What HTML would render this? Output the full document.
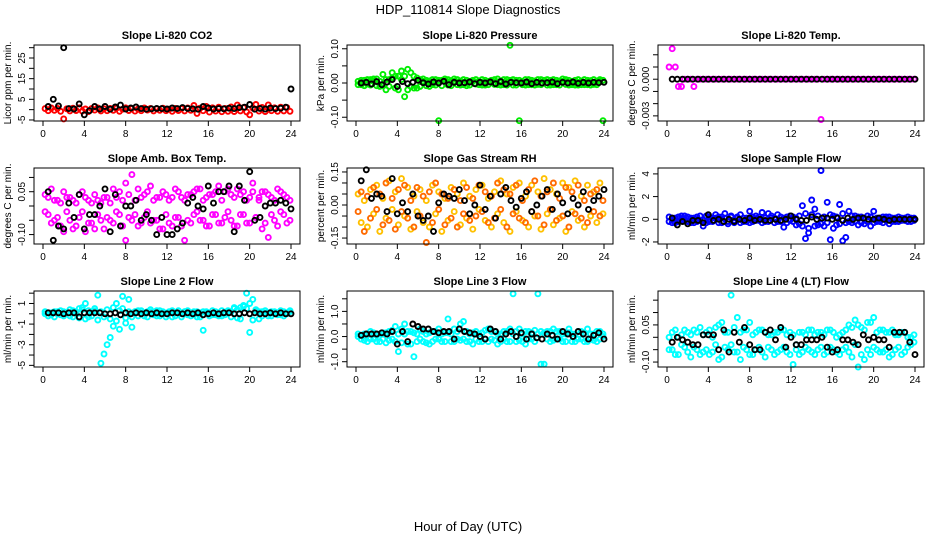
<!DOCTYPE html>
<html><head><meta charset="utf-8"><style>
html,body{margin:0;padding:0;background:#fff;}
svg{display:block;font-family:"Liberation Sans",sans-serif;}
</style></head><body>
<svg id="chart" width="936" height="540" viewBox="0 0 936 540" xmlns="http://www.w3.org/2000/svg">
<rect width="936" height="540" fill="#fff"/>
<text x="468" y="14" text-anchor="middle" font-size="13">HDP_110814  Slope Diagnostics</text>
<text x="468" y="531" text-anchor="middle" font-size="13">Hour of Day (UTC)</text>
</svg>
<script>
const hoursC=[0.2,0.5,0.8,1.1,1.4,1.7,2.0,2.3,2.6,2.9,3.2,3.5,3.8,4.1,4.4,4.7,5.0,5.3,5.6,5.9,6.2,6.5,6.8,7.1,7.4,7.7,8.0,8.3,8.6,8.9,9.2,9.5,9.8,10.1,10.4,10.7,11.0,11.3,11.6,11.9,12.2,12.5,12.8,13.1,13.4,13.7,14.0,14.3,14.6,14.9,15.2,15.5,15.8,16.1,16.4,16.7,17.0,17.3,17.6,17.9,18.2,18.5,18.8,19.1,19.4,19.7,20.0,20.3,20.6,20.9,21.2,21.5,21.8,22.1,22.4,22.7,23.0,23.3,23.6,23.9];
const hoursB=[0.5,1.0,1.5,2.0,2.5,3.0,3.5,4.0,4.5,5.0,5.5,6.0,6.5,7.0,7.5,8.0,8.5,9.0,9.5,10.0,10.5,11.0,11.5,12.0,12.5,13.0,13.5,14.0,14.5,15.0,15.5,16.0,16.5,17.0,17.5,18.0,18.5,19.0,19.5,20.0,20.5,21.0,21.5,22.0,22.5,23.0,23.5,24.0];
const xTicks=[0,4,8,12,16,20,24];

const co2A=[0.5,-0.5,0.8,-0.3,0.6,-0.8,-4.5,0.4,-0.6,0.7,-0.4,0.9,-0.7,0.3,-0.9,0.5,-0.2,0.8,-0.6,0.4,-0.5,0.6,-0.3,0.7,-0.8,0.2,0.9,-0.4,0.5,-0.7,0.3,-0.5,0.8,-0.2,0.6,-0.6,0.4,-0.3,0.7,-0.5,0.2,-0.8,0.6,-0.4,0.5,-0.6,0.8,-0.3,2.0,-1.8,0.7,-0.5,1.5,-1.2,0.9,-0.7,1.2,-1.0,0.6,-0.8,1.3,-0.9,2.2,-0.6,1.0,-1.1,-2.5,0.8,2.5,-0.7,1.1,-0.9,2.3,-0.5,0.9,-0.8,1.2,-0.6,1.0,-0.8];
const co2Black=[1.5,5,1.8,30,0.5,0.3,2.8,-2.5,-0.5,1.5,0.3,1.5,0.2,1.3,2.2,0.3,0.8,1.3,0.5,0.2,0.4,0.6,0.5,0.3,0.8,0.5,1.0,0.6,0.4,0.2,1.5,0.8,0.3,0.5,0.4,0.7,0.5,1.0,1.2,2.5,0.2,0.6,0.3,0.8,0.5,0.7,1.2,10];
const co2Ticks=[-5,0,5,10,15,20,25,30];
const co2Labels=[-5,5,15,25];

const pressA=[0.005,-0.005,0.008,-0.003,0.01,0.012,-0.008,0.005,0.025,-0.02,0.01,0.03,-0.015,0.02,0.035,-0.04,0.04,-0.01,0.02,-0.015,0.01,0.005,-0.008,0.006,-0.005,0.01,-0.11,0.008,0.012,-0.006,0.007,0.012,-0.005,0.006,0.01,-0.008,0.005,0.008,-0.003,0.006,0.01,-0.006,0.005,0.008,-0.004,0.012,0.006,-0.005,0.01,0.11,-0.006,0.008,-0.11,0.005,0.01,-0.005,0.008,0.006,-0.004,0.01,0.005,-0.006,0.008,0.01,-0.005,0.006,0.012,-0.004,0.008,0.005,-0.006,0.01,0.006,-0.005,0.008,0.007,-0.004,0.006,0.01,-0.11];
const pressB=[-0.005,0.008,-0.008,0.01,-0.006,0.005,0.012,-0.01,-0.008,0.01,-0.01,0.015,0.02,-0.02,0.01,0.02,-0.02,0.03,-0.015,0.015,-0.01,0.012,0.008,-0.01,0.01,-0.006,0.008,-0.008,0.006,0.01,-0.008,0.005,0.01,-0.006,-0.005,0.008,-0.006,0.005,0.01,-0.005,-0.006,0.008,-0.005,0.006,0.01,-0.005,-0.006,0.01,-0.006,0.008,0.01,-0.006,0.008,-0.005,-0.006,0.01,-0.005,-0.006,0.01,-0.005,0.008,0.01,-0.006,-0.005,0.008,-0.006,0.005,0.01,-0.006,-0.005,0.008,-0.006,-0.005,0.01,-0.005,-0.006,0.01,-0.005,0.006,0.008];
const pressBlack=[0,0.002,-0.003,0.004,-0.005,0.003,0.01,-0.01,0.004,-0.002,0.002,0.008,0.001,-0.003,0.003,0,0.005,-0.005,0.002,0,0.001,0.003,-0.002,0.002,0,0.003,-0.002,0.004,-0.003,0.002,0.001,0,0.003,-0.002,0.002,0,0.001,0.003,-0.002,0.002,0,0.003,-0.001,0.002,0,0.002,0.001,0.002];
const pressTicks=[-0.1,-0.05,0,0.05,0.1];
const pressLabels=["-0.10","0.00","0.10"];

const tempA=[0.001,0.0025,0.001,-0.0006,-0.0006,0,0,0,-0.0006,0,0,0,0,0,0,0,0,0,0,0,0,0,0,0,0,0,0,0,0,0,0,0,0,0,0,0,0,0,0,0,0,0,0,0,0,0,0,0,0,-0.0033,0,0,0,0,0,0,0,0,0,0,0,0,0,0,0,0,0,0,0,0,0,0,0,0,0,0,0,0,0,0];
const tempBlack=[0,0,0,0,0,0,0,0,0,0,0,0,0,0,0,0,0,0,0,0,0,0,0,0,0,0,0,0,0,0,0,0,0,0,0,0,0,0,0,0,0,0,0,0,0,0,0,0];
const tempTicks=[-0.003,-0.002,-0.001,0,0.001,0.002];
const tempLabels=["-0.003","0.000"];

const ambA=[0.04,-0.03,0.06,-0.05,0.02,-0.07,0.05,-0.02,0.03,-0.08,0.01,-0.04,0.05,-0.09,0.02,-0.06,0.04,-0.03,0.01,-0.08,0.03,-0.05,0.06,-0.02,0.05,-0.07,0.08,-0.04,0.11,-0.03,0.06,-0.06,0.04,-0.02,0.07,-0.05,0.03,-0.08,0.05,-0.03,0.02,-0.07,0.06,-0.04,0.03,-0.12,0.04,-0.06,0.05,-0.02,0.06,-0.05,0.03,-0.07,0.04,-0.03,0.07,-0.06,0.05,-0.02,0.04,-0.07,0.06,-0.03,0.05,-0.06,0.03,0.08,-0.04,0.02,-0.08,0.05,-0.11,0.03,-0.05,0.06,-0.02,0.04,-0.06,0.02];
const ambB=[-0.02,0.03,-0.06,0.02,-0.04,0.01,-0.09,0.03,-0.05,0.02,-0.07,0.04,-0.02,0.03,-0.06,0.01,-0.08,0.02,-0.05,0.03,-0.04,0.01,-0.06,0.03,-0.03,0.02,-0.12,0.04,-0.05,0.02,-0.07,0.03,-0.04,0.05,-0.06,0.02,-0.05,0.03,-0.08,0.04,-0.06,0.03,-0.04,0.05,-0.07,0.02,-0.05,0.04,-0.03,0.06,-0.05,0.02,-0.07,0.04,-0.03,0.05,-0.06,0.02,-0.04,0.06,-0.05,0.03,-0.07,0.04,-0.03,0.02,-0.06,0.05,-0.04,0.03,0.05,-0.06,0.04,-0.03,0.02,-0.07,0.05,-0.03,0.03,-0.05];
const ambBlack=[0.05,-0.12,-0.07,-0.08,0.01,-0.04,0.04,-0.08,-0.03,-0.03,0.0,0.06,-0.09,0.04,-0.07,0.0,0.0,0.02,-0.05,-0.03,-0.05,-0.1,-0.04,-0.1,-0.1,-0.08,-0.06,0.01,0.03,0.0,-0.01,0.07,0.01,0.05,0.05,0.07,-0.09,0.07,0.02,0.12,-0.05,-0.04,0.0,0.01,0.01,0.02,0.01,-0.01];
const ambTicks=[-0.1,-0.05,0,0.05,0.1];
const ambLabels=["-0.10","0.05"];

const rhA=[0.05,-0.08,0.02,-0.1,0.07,-0.04,0.09,-0.12,0.03,-0.06,0.11,-0.02,0.06,-0.09,0.12,-0.05,0.08,-0.11,0.04,-0.03,0.07,-0.08,0.02,-0.1,0.09,-0.04,0.06,-0.12,0.03,-0.07,0.08,-0.03,0.05,-0.09,0.1,-0.06,0.04,-0.11,0.07,-0.02,0.09,-0.07,0.03,-0.1,0.06,-0.04,0.11,-0.08,0.05,-0.12,0.08,-0.03,0.1,-0.07,0.04,-0.1,0.09,-0.05,0.06,-0.11,0.12,-0.04,0.07,-0.09,0.05,-0.06,0.1,-0.12,0.08,-0.03,0.11,-0.07,0.04,-0.1,0.09,-0.05,0.06,-0.08,0.1,-0.04];
const rhB=[-0.03,0.06,-0.12,0.04,-0.06,0.08,-0.02,0.05,-0.09,0.1,-0.07,0.03,-0.11,0.07,-0.03,0.09,-0.06,0.02,-0.1,0.08,-0.05,0.04,-0.17,0.06,-0.08,0.1,-0.02,0.05,-0.09,0.03,-0.06,0.07,-0.1,0.02,-0.04,0.08,-0.07,0.03,-0.05,0.09,-0.03,0.06,-0.08,0.04,-0.06,0.1,-0.02,0.07,-0.1,0.05,-0.04,0.09,-0.06,0.02,-0.08,0.07,-0.03,0.11,-0.05,0.04,-0.09,0.06,-0.02,0.1,-0.07,0.03,-0.05,0.08,-0.1,0.06,-0.04,0.09,-0.06,0.02,-0.08,0.05,-0.03,0.07,-0.05,0.02];
const rhBlack=[0.11,0.16,0.03,0.05,0.04,-0.03,0.12,-0.04,0.01,-0.03,0.05,-0.05,-0.07,-0.05,-0.12,0.01,0.05,0.04,0.03,0.07,0.02,-0.04,0.0,0.09,-0.02,0.04,-0.06,0.05,0.08,0.02,-0.01,0.03,0.06,-0.03,0.0,0.04,0.07,-0.02,0.05,0.01,-0.04,0.03,0.0,0.06,-0.02,0.02,0.04,0.07];
const rhTicks=[-0.15,-0.1,-0.05,0,0.05,0.1,0.15];
const rhLabels=["-0.15","0.00","0.15"];

const flowA=[-0.2,0.1,-0.3,0.2,-0.1,0.3,-0.2,0.1,-0.3,0.2,-0.1,-0.6,0.3,-0.2,0.1,0.4,-0.3,0.2,0.5,-0.4,0.2,-0.3,0.1,0.4,-0.2,0.1,0.7,-0.2,0.3,-0.1,0.6,-0.2,0.5,0.1,-0.3,0.4,-0.2,-0.7,0.2,0.3,-0.2,0.1,-0.4,1.2,-1.7,-1.2,1.7,0.9,-0.5,4.3,-0.6,1.5,-1.8,0.3,-0.5,1.3,-1.9,-1.6,0.7,-0.3,0.3,-0.5,0.2,-0.4,0.3,-0.6,0.7,-0.2,0.1,-0.3,0.2,-0.4,0.1,-0.2,0.2,-0.1,0.1,-0.2,0.1,-0.1];
const flowB=[0.2,-0.3,0.1,-0.2,0.3,-0.1,0.2,-0.3,0.1,-0.2,0.3,-0.1,-0.3,0.2,-0.2,0.1,0.2,-0.3,0.1,-0.2,0.3,-0.1,0.2,-0.3,0.1,-0.2,-0.3,0.2,-0.1,0.2,-0.3,0.1,-0.2,0.3,0.1,-0.2,0.2,0.1,-0.3,-0.1,0.2,-0.5,0.3,-0.6,0.5,-0.8,0.4,-0.6,0.3,-0.4,0.2,-0.3,0.4,-0.8,0.2,-0.4,0.5,-0.3,-0.2,0.3,-0.2,0.2,-0.3,0.1,-0.2,0.2,-0.3,0.1,-0.2,0.2,-0.1,0.2,-0.2,0.1,-0.2,0.1,-0.1,0.2,-0.2,0.1];
const flowBlack=[0.1,-0.5,-0.2,-0.4,-0.1,-0.1,-0.3,0.4,-0.1,0.0,-0.2,0.0,-0.2,0.0,-0.1,0.1,-0.1,0.0,-0.1,-0.1,0.0,-0.1,0.0,0.3,0.0,-0.1,-0.1,0.2,0.0,0.1,0.1,0.0,0.1,-0.1,0.1,0.0,0.1,0.1,0.0,0.0,0.1,0.0,-0.1,0.0,0.0,0.0,0.0,0.0];
const flowTicks=[-2,0,2,4];
const flowLabels=[-2,0,2,4];

const l2A=[0,0.1,-0.1,0.2,0,-0.1,0.2,0.1,-0.2,0.3,0.1,0.5,0.4,1.0,-0.3,0.2,0.3,1.8,-4.8,-3.9,-3.0,-2.3,-1.2,1.0,-1.5,1.7,-0.9,1.4,-1.3,0.2,0.3,0.1,-0.2,0.2,0.4,0.1,-0.2,0.3,0.1,0,0.2,-0.3,0.1,0.3,0,0.2,-0.1,0.1,0.2,-0.3,0.1,-1.6,0.2,0,-0.1,0.2,0.1,-0.2,0.1,0.3,0.2,0.5,-0.4,0.6,0.8,2.0,-1.8,1.4,0.3,-0.5,0.2,0.1,-0.2,0.2,0,0.1,-0.1,0.2,0,0.3];
const l2B=[0.2,-0.2,0.1,-0.3,0.2,0.3,-0.2,0.1,0.4,-0.3,0.2,-0.4,0.6,-0.5,0.3,-0.2,0.5,-0.6,0.2,-0.3,0.4,-0.5,0.6,-0.7,0.3,0.5,-0.4,0.2,-0.3,0.2,-0.2,0.3,0.1,-0.3,0.2,-0.1,0.3,-0.2,0.2,-0.3,0.1,0.3,-0.2,0.1,-0.3,0.2,0.3,-0.2,-0.1,0.2,-0.3,0.2,0.1,-0.2,0.3,-0.1,-0.2,0.3,-0.1,0.2,-0.3,0.6,0.4,-0.5,0.7,0.5,1.0,-0.6,0.4,0.2,-0.2,0.3,0.1,-0.2,0.2,-0.1,0.3,-0.2,0.1,0.2];
const l2Black=[0.1,0.1,0.1,0,0.1,0.1,-0.3,0.1,0.1,0.1,0.1,0,0,0.1,-0.1,0.1,0,0.1,0,0.1,0,0.1,0,0,0.1,0.1,0,0.1,0,0.1,-0.1,0,0.1,0,0.1,0.1,0,0,0.1,0,0.1,0,0,0.1,0,0.1,0,0];
const l2Ticks=[-5,-4,-3,-2,-1,0,1,2];
const l2Labels=[-5,-3,-1,1];

const l3A=[0,-0.1,0.1,-0.2,0.2,-0.1,0.05,-0.2,0.15,-0.25,0.2,-0.1,0.4,-0.6,0.3,0.5,-0.3,0.2,-0.8,0.1,0.3,-0.2,0.1,-0.3,0.2,-0.1,0.3,-0.2,0.15,0.7,-0.2,0.3,-0.1,0.5,0.6,-0.2,0.1,-0.3,0.2,0.1,-0.2,0.25,0.3,-0.1,0.2,-0.3,0.1,0.2,-0.2,0.3,1.7,-0.2,0.3,0.1,-0.3,0.2,-0.1,0.25,1.7,-1.1,-1.1,0.2,-0.2,0.3,-0.1,0.2,-0.2,0.1,0.3,-0.2,0.1,-0.1,0.2,-0.2,0.3,-0.1,0.1,-0.2,0.2,0];
const l3B=[0.1,0.05,-0.15,0.1,-0.1,0.15,-0.2,0.1,-0.1,0.15,-0.15,0.25,-0.2,0.1,-0.25,0.1,0.2,-0.3,0.15,-0.2,-0.1,0.2,-0.25,0.15,-0.2,0.2,-0.1,0.1,-0.2,0.15,0.1,-0.2,0.2,-0.15,-0.1,0.2,-0.2,0.15,-0.1,-0.2,0.15,-0.1,-0.2,0.2,-0.15,0.1,-0.2,-0.1,0.2,-0.2,0.1,0.2,-0.15,-0.2,0.2,-0.1,0.15,-0.2,0.1,0.2,0.15,-0.1,0.2,-0.15,0.2,-0.1,0.1,-0.2,0.15,0.1,-0.2,0.2,-0.1,0.15,-0.2,0.1,-0.15,0.2,-0.1,0.1];
const l3Black=[0.05,0.1,0.1,0.1,0.15,0.1,0.2,-0.3,0.2,-0.2,0.5,0.4,0.3,0.3,0.2,0.15,0.2,0.2,-0.1,0.3,0.2,0.15,0.1,0.0,-0.1,0.3,0.2,-0.1,0.1,0.2,0.0,0.15,-0.1,0.1,-0.05,-0.1,0.1,0.05,-0.1,0.2,0.1,0.0,0.2,0.1,-0.1,0.05,0.15,-0.1];
const l3Ticks=[-1,-0.5,0,0.5,1,1.5];
const l3Labels=["-1.0","0.0","1.0"];

const l4A=[0.0,-0.05,0.03,-0.07,0.01,-0.04,0.02,-0.08,0.03,-0.05,0.04,-0.06,0.02,-0.07,0.0,-0.03,0.05,-0.08,-0.04,0.02,0.17,-0.06,0.08,-0.09,0.03,-0.05,0.06,-0.07,0.02,-0.04,0.03,-0.08,0.01,-0.05,0.02,-0.06,0.03,-0.04,0.01,-0.07,-0.11,-0.03,0.02,-0.06,0.01,-0.05,0.03,-0.07,0.02,-0.04,0.01,-0.06,0.03,-0.05,0.0,-0.07,0.02,-0.04,0.05,-0.08,0.07,-0.12,0.04,-0.09,0.06,-0.07,0.08,-0.05,0.03,-0.06,0.02,-0.08,0.03,-0.05,0.01,-0.07,0.02,-0.04,0.0,-0.02];
const l4B=[-0.05,0.02,-0.07,0.0,-0.03,0.03,-0.06,0.01,-0.04,0.02,-0.07,0.01,-0.05,0.03,-0.06,0.04,-0.09,0.06,0.02,-0.05,-0.03,0.04,-0.06,0.02,-0.04,0.03,-0.07,0.01,-0.05,0.03,-0.06,0.02,-0.04,0.01,-0.07,0.02,-0.05,0.03,-0.06,0.02,0.01,-0.05,-0.07,0.02,-0.04,0.03,-0.06,0.01,-0.05,0.02,-0.07,0.03,-0.04,0.02,-0.06,0.01,-0.05,0.03,-0.06,0.04,-0.03,0.05,-0.07,0.03,-0.05,0.06,-0.04,0.02,-0.06,0.03,-0.05,0.02,-0.07,0.01,-0.04,0.02,-0.06,0.0,-0.03,0.01];
const l4Black=[-0.02,0.0,-0.01,-0.02,-0.03,-0.03,0.01,0.01,0.01,-0.05,0.03,-0.06,0.02,-0.02,0.04,-0.03,-0.05,-0.05,0.02,0.03,-0.01,0.04,-0.04,0.0,-0.03,-0.03,-0.01,-0.01,-0.01,0.0,-0.04,-0.06,-0.05,-0.01,-0.01,-0.02,-0.03,0.01,-0.01,0.0,-0.01,-0.01,-0.04,0.02,0.02,0.02,-0.02,-0.07];
const l4Ticks=[-0.1,-0.05,0,0.05,0.1,0.15];
const l4Labels=["-0.10","0.05"];

const NS="http://www.w3.org/2000/svg";
const svg=document.getElementById('chart');
function mk(tag,attrs,parent){const e=document.createElementNS(NS,tag);for(const k in attrs)e.setAttribute(k,attrs[k]);(parent||svg).appendChild(e);return e;}

const W=266,H=76;
function panel(p){
  const g=mk('g',{});
  
  
  const L=p.left,T=p.top;
  const xs=h=>L+9+h*(248/24);
  const ys=v=>T+H-(v-p.dom[0])/(p.dom[1]-p.dom[0])*H;
  const t=mk('text',{x:L+W/2,y:T-6,'text-anchor':'middle','font-size':11,'font-weight':'bold'},g);t.textContent=p.title;
  
  
  const yl=mk('text',{transform:`translate(${L-23},${T+H/2}) rotate(-90)`,'text-anchor':'middle','font-size':10},g);yl.textContent=p.ylab;
  
  
  p.series.forEach(s=>{
    const sg=mk('g',{fill:'none',stroke:s.color,'stroke-width':1.9},g);
    
    
    s.y.forEach((v,i)=>{const c=mk('circle',{cx:xs(s.x[i]).toFixed(1),cy:ys(v).toFixed(1),r:2.5},sg);
      
      });
  });
  const b=mk('rect',{x:L,y:T,width:W,height:H,fill:'none',stroke:'#000','stroke-width':1},g);
  
  
  const xa=mk('g',{stroke:'#000','stroke-width':1},g);
  
  
  mk('line',{x1:xs(0),x2:xs(24),y1:T+H,y2:T+H},xa);
  xTicks.forEach(h=>{mk('line',{x1:xs(h),x2:xs(h),y1:T+H,y2:T+H+5},xa);
    const tx=mk('text',{x:xs(h),y:T+H+16,'text-anchor':'middle','font-size':10,stroke:'none',fill:'#000'},xa);tx.textContent=h;
    
    });
  const ya=mk('g',{stroke:'#000','stroke-width':1},g);
  
  
  mk('line',{x1:L,x2:L,y1:ys(p.ticks[0]),y2:ys(p.ticks[p.ticks.length-1])},ya);
  p.ticks.forEach(v=>mk('line',{x1:L-5,x2:L,y1:ys(v),y2:ys(v)},ya));
  p.labels.forEach(lb=>{const v=parseFloat(lb);
    const ty=mk('text',{transform:`translate(${L-9},${ys(v)}) rotate(-90)`,'text-anchor':'middle','font-size':10,stroke:'none',fill:'#000'},ya);ty.textContent=lb;
    
    });
}
const lefts=[34,347,658],tops=[45,168,291];
panel({name:'panel-li820-co2',left:lefts[0],top:tops[0],title:'Slope Li-820 CO2',ylab:'Licor ppm per min.',dom:[-5.5,31.3],ticks:co2Ticks,labels:co2Labels,
  series:[{x:hoursC,y:co2A,color:'#ff0000'},{x:hoursB,y:co2Black,color:'#000'}]});
panel({name:'panel-li820-pressure',left:lefts[1],top:tops[0],title:'Slope Li-820 Pressure',ylab:'kPa per min.',dom:[-0.111,0.111],ticks:pressTicks,labels:pressLabels,
  series:[{x:hoursC,y:pressA,color:'#00ee00'},{x:hoursC,y:pressB,color:'#00ee00'},{x:hoursB,y:pressBlack,color:'#000'}]});
panel({name:'panel-li820-temp',left:lefts[2],top:tops[0],title:'Slope Li-820 Temp.',ylab:'degrees C per min.',dom:[-0.00342,0.0028],ticks:tempTicks,labels:tempLabels,
  series:[{x:hoursC,y:tempA,color:'#ff00ff'},{x:hoursB,y:tempBlack,color:'#000'}]});
panel({name:'panel-amb-box-temp',left:lefts[0],top:tops[1],title:'Slope Amb. Box Temp.',ylab:'degrees C per min.',dom:[-0.133,0.133],ticks:ambTicks,labels:ambLabels,
  series:[{x:hoursC,y:ambA,color:'#ff00ff'},{x:hoursC,y:ambB,color:'#ff00ff'},{x:hoursB,y:ambBlack,color:'#000'}]});
panel({name:'panel-gas-stream-rh',left:lefts[1],top:tops[1],title:'Slope Gas Stream RH',ylab:'percent per min.',dom:[-0.177,0.168],ticks:rhTicks,labels:rhLabels,
  series:[{x:hoursC,y:rhA,color:'#ffc000'},{x:hoursC,y:rhB,color:'#ff6a00'},{x:hoursB,y:rhBlack,color:'#000'}]});
panel({name:'panel-sample-flow',left:lefts[2],top:tops[1],title:'Slope Sample Flow',ylab:'ml/min per min.',dom:[-2.18,4.52],ticks:flowTicks,labels:flowLabels.map(String),
  series:[{x:hoursC,y:flowA,color:'#0000ff'},{x:hoursC,y:flowB,color:'#0000ff'},{x:hoursB,y:flowBlack,color:'#000'}]});
panel({name:'panel-line2-flow',left:lefts[0],top:tops[2],title:'Slope Line 2 Flow',ylab:'ml/min per min.',dom:[-5.16,2.21],ticks:l2Ticks,labels:l2Labels.map(String),
  series:[{x:hoursC,y:l2A,color:'#00ffff'},{x:hoursC,y:l2B,color:'#00ffff'},{x:hoursB,y:l2Black,color:'#000'}]});
panel({name:'panel-line3-flow',left:lefts[1],top:tops[2],title:'Slope Line 3 Flow',ylab:'ml/min per min.',dom:[-1.21,1.81],ticks:l3Ticks,labels:l3Labels,
  series:[{x:hoursC,y:l3A,color:'#00ffff'},{x:hoursC,y:l3B,color:'#00ffff'},{x:hoursB,y:l3Black,color:'#000'}]});
panel({name:'panel-line4-flow',left:lefts[2],top:tops[2],title:'Slope Line 4 (LT) Flow',ylab:'ml/min per min.',dom:[-0.12,0.187],ticks:l4Ticks,labels:l4Labels,
  series:[{x:hoursC,y:l4A,color:'#00ffff'},{x:hoursC,y:l4B,color:'#00ffff'},{x:hoursB,y:l4Black,color:'#000'}]});
</script>
</body></html>
